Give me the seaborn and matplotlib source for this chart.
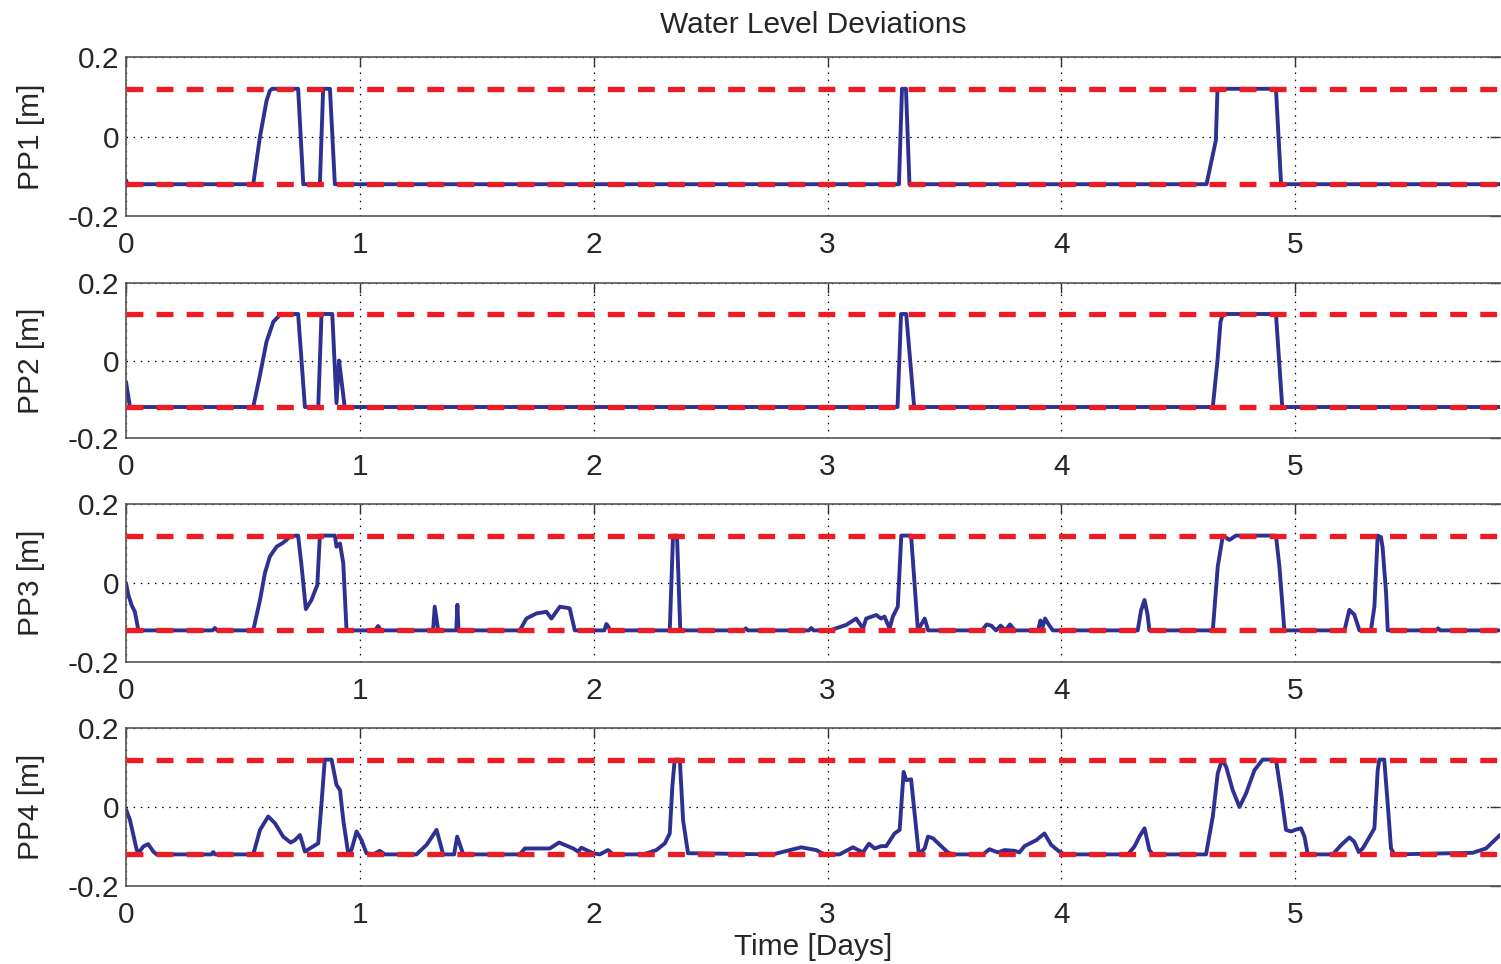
import numpy as np
import pandas as pd
import matplotlib
matplotlib.use('Agg')
import matplotlib.pyplot as plt
import seaborn as sns

# ================= data =================
TITLE = 'Water Level Deviations'
PANEL_LABELS = ['PP1 [m]', 'PP2 [m]', 'PP3 [m]', 'PP4 [m]']
X_LABEL = 'Time [Days]'
X_TICKS = [0, 1, 2, 3, 4, 5]
Y_TICKS = [-0.2, 0, 0.2]
Y_TICKLABELS = ['-0.2', '0', '0.2']
LIMIT = 0.12  # red dashed bounds (+/-)
T_END = 5.875

PP1_T = [0.0, 0.006, 0.544, 0.573, 0.601, 0.615, 0.625, 0.736, 0.758, 0.829, 0.843, 0.872, 0.893,
         3.305, 3.318, 3.335, 3.350, 4.620, 4.660, 4.667, 4.917, 4.939, 5.875]
PP1_V = [-0.11, -0.12, -0.12, 0.0, 0.09, 0.115, 0.12, 0.12, -0.12, -0.12, 0.12, 0.12, -0.12,
         -0.12, 0.12, 0.12, -0.12, -0.12, -0.01, 0.12, 0.12, -0.12, -0.12]

PP2_T = [0.0, 0.017, 0.544, 0.573, 0.601, 0.630, 0.662, 0.736, 0.765, 0.822, 0.836, 0.882,
         0.900, 0.911, 0.921, 0.935, 3.299, 3.314, 3.336, 3.370, 4.647, 4.667, 4.680, 4.690,
         4.917, 4.944, 5.875]
PP2_V = [-0.055, -0.12, -0.12, -0.037, 0.049, 0.10, 0.12, 0.12, -0.12, -0.12, 0.12, 0.12,
         -0.11, 0.0, -0.05, -0.12, -0.12, 0.12, 0.12, -0.12, -0.12, 0.0, 0.10, 0.12,
         0.12, -0.12, -0.12]

PP3_T = [0.000, 0.010, 0.024, 0.038, 0.053, 0.370, 0.380, 0.390,
         0.544, 0.573, 0.594, 0.615, 0.644, 0.672, 0.701, 0.725, 0.736, 0.751, 0.769, 0.793,
         0.818, 0.829, 0.893, 0.900, 0.915, 0.929, 0.943,
         1.065, 1.078, 1.090, 1.313, 1.320, 1.335, 1.412, 1.417, 1.422,
         1.684, 1.712, 1.755, 1.798, 1.819, 1.855, 1.897, 1.919,
         2.045, 2.054, 2.062, 2.070, 2.325, 2.339, 2.356, 2.370,
         2.640, 2.650, 2.660, 2.920, 2.930, 2.940,
         3.009, 3.080, 3.122, 3.151, 3.165, 3.208, 3.229, 3.243, 3.265, 3.279, 3.300, 3.315,
         3.357, 3.386, 3.415, 3.430,
         3.660, 3.680, 3.700, 3.720, 3.740, 3.760, 3.780, 3.800,
         3.900, 3.910, 3.920, 3.930, 3.945, 3.963,
         4.326, 4.340, 4.355, 4.368, 4.376,
         4.647, 4.668, 4.690, 4.718, 4.746, 4.917, 4.932, 4.953,
         5.210, 5.231, 5.252, 5.274, 5.323, 5.338, 5.352, 5.366, 5.373, 5.388, 5.395,
         5.600, 5.610, 5.620, 5.875]
PP3_V = [0.0, -0.03, -0.056, -0.073, -0.12, -0.12, -0.114, -0.12,
         -0.12, -0.043, 0.025, 0.067, 0.092, 0.102, 0.117, 0.12, 0.12, 0.041, -0.066, -0.043,
         -0.005, 0.12, 0.12, 0.092, 0.10, 0.05, -0.12,
         -0.12, -0.109, -0.12, -0.12, -0.06, -0.12, -0.12, -0.055, -0.12,
         -0.12, -0.09, -0.077, -0.073, -0.09, -0.06, -0.064, -0.12,
         -0.12, -0.104, -0.11, -0.12, -0.12, 0.12, 0.12, -0.12,
         -0.12, -0.115, -0.12, -0.12, -0.114, -0.12,
         -0.12, -0.106, -0.09, -0.115, -0.09, -0.081, -0.09, -0.085, -0.115, -0.085, -0.06, 0.12,
         0.12, -0.12, -0.09, -0.12,
         -0.12, -0.105, -0.108, -0.12, -0.108, -0.12, -0.105, -0.12,
         -0.12, -0.095, -0.11, -0.09, -0.105, -0.12,
         -0.12, -0.07, -0.043, -0.08, -0.12,
         -0.12, 0.041, 0.12, 0.109, 0.12, 0.12, 0.041, -0.12,
         -0.12, -0.068, -0.08, -0.12, -0.12, -0.06, 0.12, 0.116, 0.09, -0.026, -0.12,
         -0.12, -0.115, -0.12, -0.12]

PP4_T = [0.000, 0.017, 0.046, 0.053, 0.074, 0.095, 0.117, 0.131, 0.365, 0.373, 0.381,
         0.544, 0.573, 0.608, 0.637, 0.672, 0.704, 0.722, 0.744, 0.765, 0.786, 0.822, 0.836,
         0.850, 0.879, 0.900, 0.915, 0.929, 0.950, 0.964, 0.986, 1.007, 1.028, 1.057, 1.085,
         1.107, 1.242, 1.285, 1.328, 1.356, 1.403, 1.416, 1.442,
         1.684, 1.705, 1.812, 1.852, 1.912, 1.933, 1.947, 1.997, 2.026, 2.061, 2.083, 2.097,
         2.211, 2.268, 2.304, 2.325, 2.336, 2.346, 2.368, 2.382, 2.403,
         2.766, 2.887, 2.951, 2.987, 3.051, 3.108, 3.151, 3.177, 3.201, 3.229, 3.251, 3.286,
         3.308, 3.325, 3.336, 3.357, 3.379, 3.390, 3.415, 3.429, 3.450, 3.514, 3.536,
         3.664, 3.692, 3.728, 3.757, 3.799, 3.820, 3.842, 3.892, 3.927, 3.956, 3.991, 4.013,
         4.284, 4.312, 4.333, 4.355, 4.376, 4.390,
         4.618, 4.647, 4.668, 4.687, 4.704, 4.732, 4.761, 4.789, 4.825, 4.860, 4.917, 4.939,
         4.960, 4.982, 5.003, 5.024, 5.039, 5.053,
         5.160, 5.196, 5.231, 5.252, 5.271, 5.288, 5.309, 5.338, 5.352, 5.359, 5.380, 5.395,
         5.409, 5.423, 5.758, 5.815, 5.875]
PP4_V = [-0.006, -0.033, -0.109, -0.117, -0.10, -0.094, -0.113, -0.12, -0.12, -0.114, -0.12,
         -0.12, -0.058, -0.024, -0.041, -0.075, -0.09, -0.084, -0.071, -0.113, -0.105, -0.092, 0.009,
         0.12, 0.12, 0.056, 0.043, -0.033, -0.117, -0.109, -0.062, -0.084, -0.117, -0.12, -0.111,
         -0.12, -0.12, -0.096, -0.058, -0.12, -0.12, -0.075, -0.12,
         -0.12, -0.105, -0.105, -0.09, -0.105, -0.113, -0.103, -0.117, -0.12, -0.109, -0.12, -0.12,
         -0.12, -0.109, -0.092, -0.067, 0.051, 0.12, 0.12, -0.033, -0.117,
         -0.12, -0.102, -0.109, -0.12, -0.12, -0.102, -0.115, -0.093, -0.105, -0.099, -0.099, -0.067,
         -0.058, 0.089, 0.068, 0.07, -0.058, -0.12, -0.105, -0.075, -0.079, -0.115, -0.12,
         -0.12, -0.107, -0.115, -0.109, -0.111, -0.115, -0.099, -0.084, -0.067, -0.096, -0.113, -0.12,
         -0.12, -0.10, -0.075, -0.054, -0.109, -0.12,
         -0.12, -0.024, 0.085, 0.12, 0.102, 0.043, 0.0, 0.034, 0.093, 0.12, 0.12, 0.034,
         -0.058, -0.062, -0.057, -0.054, -0.075, -0.12,
         -0.12, -0.096, -0.077, -0.088, -0.114, -0.105, -0.084, -0.054, 0.093, 0.12, 0.12, 0.007,
         -0.105, -0.12, -0.116, -0.105, -0.071]

SERIES = [(PP1_T, PP1_V), (PP2_T, PP2_V), (PP3_T, PP3_V), (PP4_T, PP4_V)]

# ================= style =================
sns.set_theme(style='white')
plt.rcParams['font.family'] = ['Liberation Sans', 'DejaVu Sans']
FS = 21.5
BLUE = '#2e3192'
RED = '#ed1c24'

fig = plt.figure(figsize=(15.01, 9.64), dpi=100)
W, H = 1501, 964
# axes boxes in pixels: (top, bottom)
BOXES = [(57, 216), (283, 438), (504, 662), (728, 886)]
LEFT_PX, RIGHT_PX = 126, 1500

axes = []
for i, (top, bot) in enumerate(BOXES):
    ax = fig.add_axes([LEFT_PX / W, 1 - bot / H, (RIGHT_PX - LEFT_PX) / W, (bot - top) / H])
    t, v = SERIES[i]
    df = pd.DataFrame({'t': t, 'v': v})
    sns.lineplot(data=df, x='t', y='v', ax=ax, color=BLUE, linewidth=2.8,
                 estimator=None, sort=False, zorder=2)
    for lim in (LIMIT, -LIMIT):
        ax.axhline(lim, color=RED, linewidth=3.8, dashes=(3.2, 2.5), zorder=3)
    ax.set_xlim(0, T_END)
    ax.set_ylim(-0.2, 0.2)
    ax.set_xticks(X_TICKS)
    ax.set_xticklabels([str(x) for x in X_TICKS])
    ax.set_yticks(Y_TICKS)
    ax.set_yticklabels(Y_TICKLABELS)
    ax.grid(True, color='black', linestyle=(0, (1.2, 4.5)), linewidth=0.9)
    ax.tick_params(direction='in', top=True, right=True, length=7, width=1,
                   color='#333333', labelsize=FS)
    ax.tick_params(axis='x', pad=11)
    ax.tick_params(axis='y', pad=5)
    for s in ax.spines.values():
        s.set_color('#555555')
        s.set_linewidth(1.2)
    ax.spines['right'].set_visible(False)
    ax.set_xlabel('')
    ax.set_ylabel(PANEL_LABELS[i], fontsize=FS)
    ax.yaxis.set_label_coords(-0.059, 0.5)
    axes.append(ax)

axes[0].set_title(TITLE, fontsize=FS, pad=17)
axes[-1].set_xlabel(X_LABEL, fontsize=FS, labelpad=3)

fig.savefig('out.png', dpi=100)
